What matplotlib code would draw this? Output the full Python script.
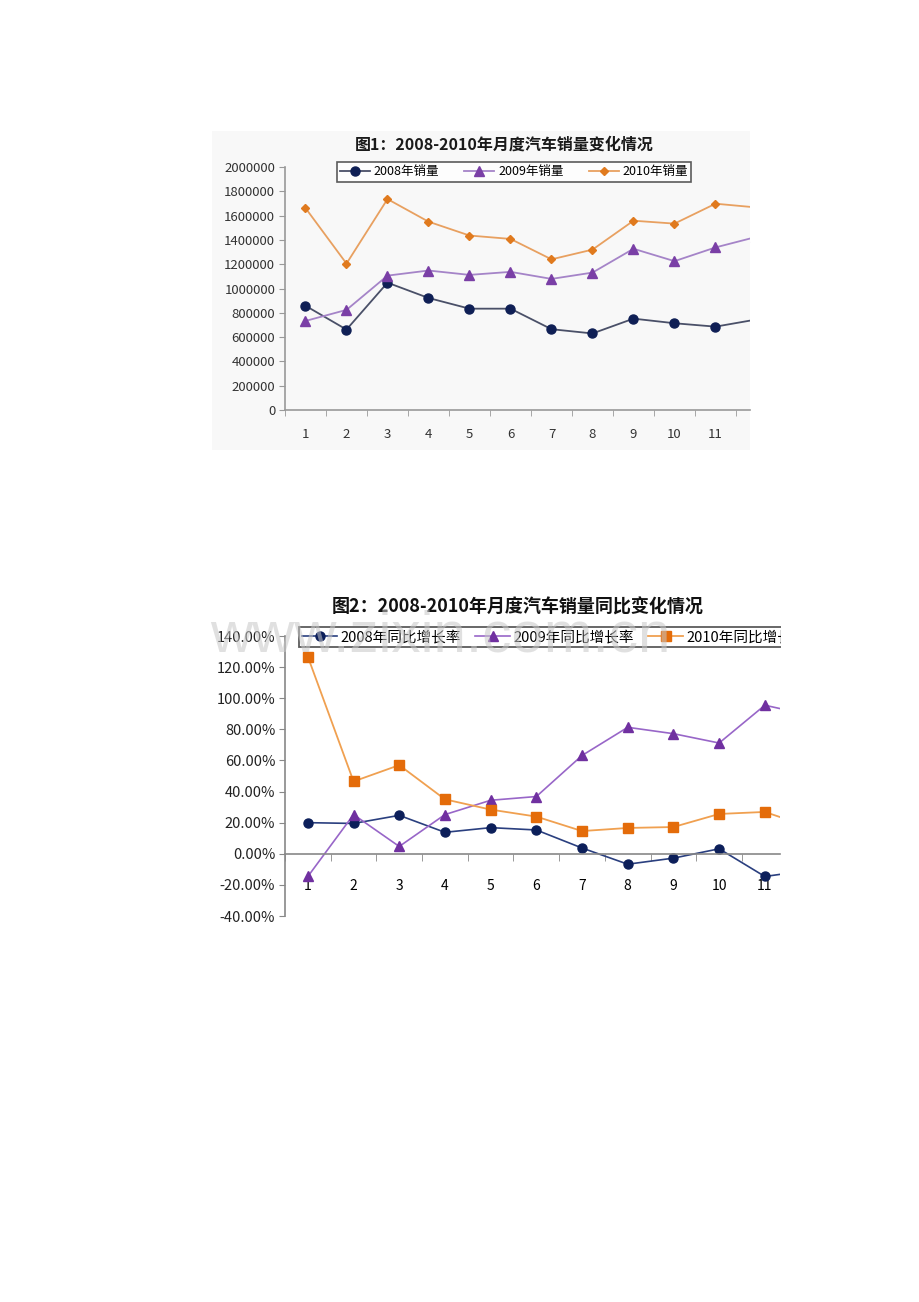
import matplotlib
matplotlib.use("Agg")
import matplotlib.pyplot as plt
from matplotlib.patches import Rectangle

plt.rcParams['font.family'] = ['Noto Sans CJK SC', 'DejaVu Sans']

months = [1, 2, 3, 4, 5, 6, 7, 8, 9, 10, 11, 12]
month_labels = ['1', '2', '3', '4', '5', '6', '7', '8', '9', '10', '11', '12']

# fig 1: monthly sales
sales_2008 = [858000, 662000, 1048000, 922000, 834000, 834000, 665000, 630000, 752000, 714000, 686000, 745000]
sales_2009 = [733000, 824000, 1106000, 1148000, 1112000, 1137000, 1079000, 1131000, 1327000, 1225000, 1338000, 1425000]
sales_2010 = [1662000, 1205000, 1736000, 1550000, 1436000, 1408000, 1240000, 1320000, 1558000, 1534000, 1698000, 1667000]
sales_ticks = [0, 200000, 400000, 600000, 800000, 1000000, 1200000, 1400000, 1600000, 1800000, 2000000]

# fig 2: year-on-year growth (%)
yoy_2008 = [20.0, 19.5, 24.7, 13.8, 16.8, 15.3, 3.7, -6.7, -2.8, 3.2, -14.6, -10.5]
yoy_2009 = [-14.6, 25.2, 4.7, 25.2, 34.4, 36.8, 63.2, 81.3, 77.2, 71.2, 95.5, 89.0]
yoy_2010 = [126.7, 46.5, 57.0, 35.0, 28.4, 23.9, 14.6, 16.6, 17.2, 25.6, 26.9, 17.0]
yoy_ticks = [-40, -20, 0, 20, 40, 60, 80, 100, 120, 140]

W, H = 920, 1302
fig = plt.figure(figsize=(W / 100, H / 100), dpi=100)


def fx(px):
    return px / W


def fy(py):
    return 1 - py / H


# chart 1 background
fig.add_artist(Rectangle((fx(212), fy(450)), fx(750) - fx(212), fy(131) - fy(450),
                         transform=fig.transFigure, facecolor='#f8f8f8', edgecolor='none', zorder=-5))

ax1 = fig.add_axes([fx(285), fy(410), fx(750) - fx(285), fy(167) - fy(410)])
ax1.patch.set_alpha(0)
ax1.plot(months, sales_2008, color='#4a5068', lw=1.3, marker='o', ms=6.5,
         mfc='#0f1f55', mec='#0f1f55', label='2008年销量')
ax1.plot(months, sales_2009, color='#a584c8', lw=1.3, marker='^', ms=6.5,
         mfc='#7a3fa6', mec='#7a3fa6', label='2009年销量')
ax1.plot(months, sales_2010, color='#e8a060', lw=1.3, marker='D', ms=4.5,
         mfc='#e07a1e', mec='#e07a1e', label='2010年销量')
ax1.set_yticks(sales_ticks)
ax1.set_yticklabels([str(v) for v in sales_ticks], fontsize=9.5, color='#333333')
ax1.set_xticks(months)
ax1.set_xticklabels(month_labels, fontsize=9.5, color='#333333')
ax1.set_xticks([m + 0.5 for m in [0] + months], minor=True)
ax1.set_xlim(0.5, 0.5 + (750 - 285) / 41.0)
ax1.set_ylim(0, 2000000)
ax1.tick_params(axis='x', which='major', length=0, pad=13)
ax1.tick_params(axis='x', which='minor', length=4, color='#999999', direction='out')
ax1.tick_params(axis='y', length=4, color='#999999', pad=3)
for s in ['top', 'right']:
    ax1.spines[s].set_visible(False)
for s in ['left', 'bottom']:
    ax1.spines[s].set_color('#999999')
    ax1.spines[s].set_linewidth(1.2)
leg1 = ax1.legend(loc='center', ncol=3, fontsize=9, frameon=True, fancybox=False,
                  edgecolor='#333333', handlelength=2.4, columnspacing=2.0,
                  borderpad=0.25, handletextpad=0.3)
leg1.set_bbox_to_anchor((fx(514), fy(172)), transform=fig.transFigure)
leg1.get_frame().set_linewidth(1.2)
fig.text(fx(504), fy(145), '图1：2008-2010年月度汽车销量变化情况', ha='center', va='center',
         fontsize=11.5, fontweight='bold', color='#1a1a1a')

# chart 2
ax2 = fig.add_axes([fx(285), fy(916), fx(780) - fx(285), fy(636) - fy(916)])
ax2.plot(months, yoy_2008, color='#2a3f7f', lw=1.2, marker='o', ms=6.5,
         mfc='#0c1f5a', mec='#0c1f5a', label='2008年同比增长率')
ax2.plot(months, yoy_2009, color='#9866c8', lw=1.2, marker='^', ms=7,
         mfc='#7030a0', mec='#7030a0', label='2009年同比增长率')
ax2.plot(months, yoy_2010, color='#f0a050', lw=1.3, marker='s', ms=7,
         mfc='#e46c0a', mec='#e46c0a', label='2010年同比增长率')
ax2.set_yticks(yoy_ticks)
ax2.set_yticklabels(['%.2f%%' % v for v in yoy_ticks], fontsize=10.5, color='#222222')
ax2.set_xticks(months)
ax2.set_xticklabels(month_labels, fontsize=10.5, color='#222222')
ax2.set_xticks([m + 0.5 for m in [0] + months], minor=True)
ax2.set_xlim(0.5, 0.5 + (780 - 285) / 45.7)
ax2.set_ylim(-40, 140)
ax2.spines['bottom'].set_position(('data', 0))
ax2.tick_params(axis='x', which='major', length=0, pad=18)
ax2.tick_params(axis='x', which='minor', length=5, color='#888888', direction='out')
ax2.tick_params(axis='y', length=4, color='#888888', pad=3)
for s in ['top', 'right']:
    ax2.spines[s].set_visible(False)
for s in ['left', 'bottom']:
    ax2.spines[s].set_color('#888888')
    ax2.spines[s].set_linewidth(1.2)
leg2 = ax2.legend(loc='center left', ncol=3, fontsize=10.5, frameon=True, fancybox=False,
                  edgecolor='#333333', handlelength=2.4, columnspacing=1.0,
                  borderpad=0.2, handletextpad=0.2)
leg2.set_bbox_to_anchor((fx(292), fy(637)), transform=fig.transFigure)
leg2.get_frame().set_linewidth(1.3)
fig.text(fx(518), fy(607), '图2：2008-2010年月度汽车销量同比变化情况', ha='center', va='center',
         fontsize=13, fontweight='bold', color='#111111')

# watermark
fig.text(fx(210), fy(637), 'www.zixin.com.cn', ha='left', va='center', fontsize=42,
         color='#c8c8c8', alpha=0.55, family='Liberation Sans', zorder=20)

# crop the right edge of chart 2 like the source picture
fig.add_artist(Rectangle((fx(781), fy(940)), 1 - fx(781), fy(590) - fy(940),
                         transform=fig.transFigure, facecolor='white', edgecolor='none', zorder=30))

fig.savefig('out.png', dpi=100)
